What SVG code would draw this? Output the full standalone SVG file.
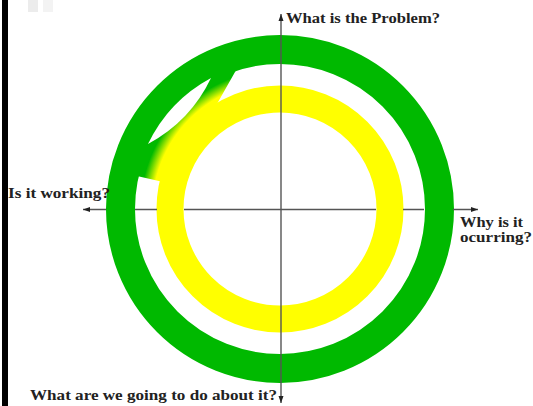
<svg xmlns="http://www.w3.org/2000/svg" width="533" height="406" viewBox="0 0 533 406">
<style>
.lbl{font-family:"Liberation Serif","Times New Roman",serif;font-weight:bold;font-size:15px;fill:#222}
.axis{stroke:#555;stroke-width:1.4;fill:none}
</style>
<defs>
<marker id="ah" markerUnits="userSpaceOnUse" markerWidth="8" markerHeight="6" refX="7" refY="3" orient="auto-start-reverse">
<path d="M0,0.5 L7,3 L0,5.5 Z" fill="#222"/>
</marker>
<radialGradient id="spiral" gradientUnits="userSpaceOnUse" cx="280" cy="209" r="150">
<stop offset="0.8" stop-color="#ffff00"/>
<stop offset="0.85" stop-color="#ffff00"/>
<stop offset="0.93" stop-color="#00b900"/>
<stop offset="1" stop-color="#00b900"/>
</radialGradient>
</defs>
<rect width="533" height="406" fill="#fff"/>
<rect x="2" y="0" width="6" height="406" fill="#000"/>
<rect x="28" y="0" width="10" height="12" fill="#ececec"/>
<rect x="43" y="0" width="10" height="12" fill="#f3f3f3"/>
<g id="outer-ring">
<circle cx="280" cy="209" r="159.5" fill="none" stroke="#00b900" stroke-width="29"/>
</g>
<g id="inner-ring">
<circle cx="280" cy="209" r="110" fill="none" stroke="#ffff00" stroke-width="27"/>
</g>
<g id="spiral-bridge">
<path d="M237.7,67.2 A148,148 0 0 0 135.8,175.7 L161.1,181.5 A122,122 0 0 1 216.4,104.9 Z" fill="url(#spiral)"/>
<path d="M211,78 A148,148 0 0 0 148,144 Q190.6,121 211,78 Z" fill="#fff"/>
</g>
<g id="connectors">
<path class="axis" d="M281,14 V403" marker-start="url(#ah)" marker-end="url(#ah)"/>
<path class="axis" d="M83,209.5 H106 M135,209.5 H157 M184,209.5 H376 M403,209.5 H424 M453,209.5 H478" marker-start="url(#ah)" marker-end="url(#ah)"/>
</g>
<g id="label-problem"><text class="lbl" x="286" y="23" textLength="154" lengthAdjust="spacingAndGlyphs">What is the Problem?</text></g>
<g id="label-working"><text class="lbl" x="8" y="198" textLength="102" lengthAdjust="spacingAndGlyphs">Is it working?</text></g>
<g id="label-why"><text class="lbl" x="460" y="226.5" textLength="63" lengthAdjust="spacingAndGlyphs">Why is it</text><text class="lbl" x="460" y="242" textLength="72" lengthAdjust="spacingAndGlyphs">ocurring?</text></g>
<g id="label-do"><text class="lbl" x="30" y="399.5" textLength="247" lengthAdjust="spacingAndGlyphs">What are we going to do about it?</text></g>
</svg>
